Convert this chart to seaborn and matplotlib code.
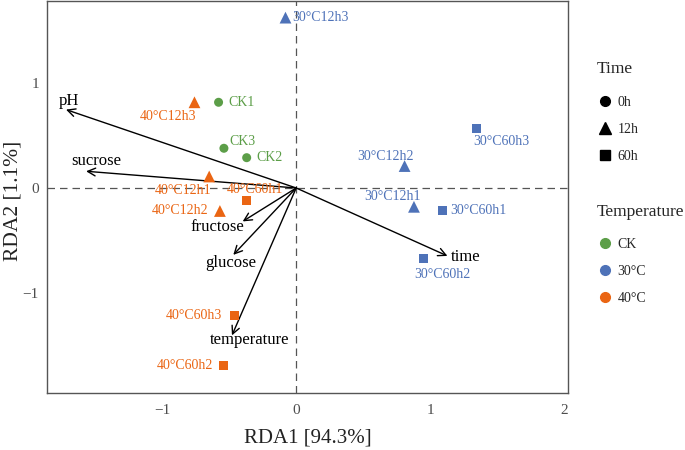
import pandas as pd
import numpy as np
import matplotlib
matplotlib.use('Agg')
import matplotlib.pyplot as plt
from matplotlib.lines import Line2D
import seaborn as sns

# ── Sample scores (RDA1, RDA2) ────────────────────────────────────────────────
SAMPLES = ['30°C12h3', '40°C12h3', 'CK1', 'CK3', 'CK2', '40°C12h1', '40°C60h1',
           '40°C12h2', '30°C60h3', '30°C12h2', '30°C12h1', '30°C60h1', '30°C60h2',
           '40°C60h3', '40°C60h2']
RDA1 = [-0.08, -0.76, -0.58, -0.54, -0.37, -0.65, -0.37, -0.57, 1.35, 0.81,
        0.88, 1.09, 0.95, -0.46, -0.54]
RDA2 = [1.63, 0.82, 0.82, 0.38, 0.29, 0.11, -0.12, -0.22, 0.57, 0.21,
        -0.18, -0.22, -0.67, -1.22, -1.70]
TEMPERATURE = ['30°C', '40°C', 'CK', 'CK', 'CK', '40°C', '40°C', '40°C',
               '30°C', '30°C', '30°C', '30°C', '30°C', '40°C', '40°C']
TIME = ['12h', '12h', '0h', '0h', '0h', '12h', '60h', '12h', '60h', '12h',
        '12h', '60h', '60h', '60h', '60h']

# ── Environmental vectors ─────────────────────────────────────────────────────
VARS = ['pH', 'sucrose', 'fructose', 'glucose', 'temperature', 'time']
VAR_RDA1 = [-1.72, -1.57, -0.40, -0.47, -0.48, 1.13]
VAR_RDA2 = [0.75, 0.16, -0.32, -0.64, -1.41, -0.65]

TIME_LEVELS = ['0h', '12h', '60h']
TEMP_LEVELS = ['CK', '30°C', '40°C']
PALETTE = {'CK': '#5C9E48', '30°C': '#4E72B8', '40°C': '#EA6513'}
MARKERS = {'0h': 'o', '12h': '^', '60h': 's'}
SIZES = {'0h': 42, '12h': 72, '60h': 42}

# label offsets in pixels (dx, dy with dy downward) and alignment
PT_LABEL = {
    '30°C12h3': (7, 0, 'left'),   '40°C12h3': (-26, 14, 'center'),
    'CK1': (10, 0, 'left'),       'CK3': (5, -7, 'left'),
    'CK2': (10, 0, 'left'),       '40°C12h1': (-26, 14, 'center'),
    '40°C60h1': (8, -11, 'center'), '40°C12h2': (-12, 0, 'right'),
    '30°C60h3': (24, 13, 'center'), '30°C12h2': (-19, -10, 'center'),
    '30°C12h1': (-21, -10, 'center'), '30°C60h1': (8, 0, 'left'),
    '30°C60h2': (19, 16, 'center'), '40°C60h3': (-13, 0, 'right'),
    '40°C60h2': (-11, 0, 'right'),
}
VAR_LABEL = {
    'pH': (3, -9, 'center'), 'sucrose': (10, -10, 'center'),
    'fructose': (-25, 6, 'center'), 'glucose': (-3, 8, 'center'),
    'temperature': (18, 5, 'center'), 'time': (3, 1, 'left'),
}

df = pd.DataFrame({'sample': SAMPLES, 'RDA1': RDA1, 'RDA2': RDA2,
                   'Temperature': TEMPERATURE, 'Time': TIME})

sns.set_style('white')
plt.rcParams['font.family'] = ['Liberation Serif', 'DejaVu Serif']
PX = 0.72  # pixels -> points at dpi 100

fig = plt.figure(figsize=(6.85, 4.5), dpi=100)
ax = fig.add_axes([0.069, 0.127, 0.76, 0.871])

ax.axhline(0, color='#555555', lw=0.9, ls=(0, (6, 4)), zorder=0)
ax.axvline(0, color='#555555', lw=0.9, ls=(0, (6, 4)), zorder=0)

for name, vx, vy in zip(VARS, VAR_RDA1, VAR_RDA2):
    ax.annotate('', xy=(vx, vy), xytext=(0, 0),
                arrowprops=dict(arrowstyle='->', color='black', lw=1.0,
                                mutation_scale=14, shrinkA=0, shrinkB=0))
    dx, dy, ha = VAR_LABEL[name]
    ax.annotate(name, xy=(vx, vy), xytext=(dx * PX, -dy * PX),
                textcoords='offset points', ha=ha, va='center',
                fontsize=12, color='black')

sns.scatterplot(data=df, x='RDA1', y='RDA2', hue='Temperature', style='Time',
                size='Time', sizes=SIZES, markers=MARKERS, palette=PALETTE,
                edgecolor='none', linewidth=0, legend=False, ax=ax, zorder=3)

for _, row in df.iterrows():
    dx, dy, ha = PT_LABEL[row['sample']]
    ax.annotate(row['sample'], xy=(row['RDA1'], row['RDA2']),
                xytext=(dx * PX, -dy * PX), textcoords='offset points',
                ha=ha, va='center', fontsize=10,
                color=PALETTE[row['Temperature']])

ax.set_xlim(-1.86, 2.03)
ax.set_ylim(-1.96, 1.79)
ax.set_xticks([-1, 0, 1, 2])
ax.set_yticks([-1, 0, 1])
ax.tick_params(axis='both', direction='out', length=3, width=0.8,
               color='#555555', labelcolor='#4d4d4d', labelsize=11, pad=3)
ax.tick_params(axis='x', pad=5)
for sp in ax.spines.values():
    sp.set_color('#555555')
    sp.set_linewidth(1.0)
ax.set_xlabel('RDA1 [94.3%]', fontsize=15, color='#222222', labelpad=8)
ax.set_ylabel('RDA2 [1.1%]', fontsize=15.5, color='#222222')
ax.yaxis.set_label_coords(-0.047, 0.49)

# ── Legends (titles drawn as separate text for spacing) ──────────────────────
time_handles = [Line2D([], [], marker=MARKERS[t], color='black', ls='none',
                       markersize=7 if t != '12h' else 8) for t in TIME_LEVELS]
temp_handles = [Line2D([], [], marker='o', color=PALETTE[t], ls='none',
                       markersize=7) for t in TEMP_LEVELS]

fig.text(0.871, 1 - 69 / 450, 'Time', fontsize=12.5, va='center', ha='left')
fig.text(0.871, 1 - 212 / 450, 'Temperature', fontsize=12.5, va='center',
         ha='left')

leg_kw = dict(loc='upper left', frameon=False, fontsize=10,
              labelspacing=1.0, handletextpad=0.15, handlelength=1.5,
              borderaxespad=0, borderpad=0)
fig.legend(time_handles, TIME_LEVELS,
           bbox_to_anchor=(0.868, 1 - 96 / 450), **leg_kw)
fig.legend(temp_handles, TEMP_LEVELS,
           bbox_to_anchor=(0.868, 1 - 238 / 450), **leg_kw)

fig.savefig('out.png', dpi=100, facecolor='white')
plt.close()
